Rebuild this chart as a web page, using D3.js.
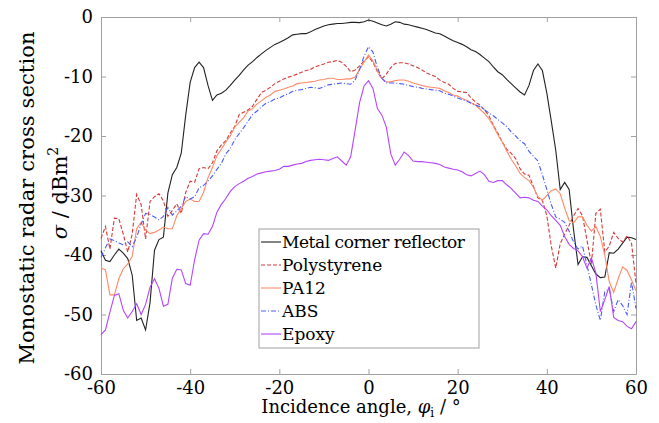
<!DOCTYPE html>
<html lang="en">
  <head>
    <meta charset="UTF-8" />
    <script src="https://d3js.org/d3.v7.min.js"></script>
    <style>
      body { margin: 0; background: #fff; }
    </style>
  </head>
  <body>
    <div id="chart"></div>
    <script>
      // incidence angles in degrees, one sample per degree
      const angles = d3.range(-60, 61)

      const xTicks = [-60, -40, -20, 0, 20, 40, 60]
      const yTicks = [0, -10, -20, -30, -40, -50, -60]

      const metal = [
        -39.3, -40.9, -41.1, -40.0, -39.0, -39.7, -40.6, -43.4, -51.0, -50.6,
        -52.6, -48.0, -39.2, -37.4, -37.0, -29.6, -26.5, -25.3, -22.9, -16.5,
        -11.0, -8.5, -7.6, -8.5, -11.5, -14.0, -13.1, -12.8, -12.3, -11.5,
        -10.6, -9.8, -8.9, -8.1, -7.5, -6.8, -6.2, -5.6, -5.1, -4.6,
        -4.3, -3.9, -3.5, -3.0, -2.9, -2.8, -2.8, -2.5, -2.1, -1.8,
        -1.5, -1.3, -1.2, -1.1, -1.1, -1.0, -0.9, -0.9, -0.95, -0.8,
        -0.5,
        -0.7, -1.0, -1.3, -1.5, -1.2, -0.8, -0.9, -1.2, -1.3, -1.5,
        -1.7, -1.9, -2.1, -2.4, -2.7, -2.8, -3.2, -3.6, -4.0, -4.3,
        -4.6, -5.0, -5.5, -5.8, -6.3, -6.9, -7.5, -8.4, -9.2, -9.7,
        -10.5, -11.2, -11.9, -12.6, -13.1, -11.5, -9.0, -7.9, -9.0, -12.8,
        -17.5, -22.4, -29.0, -27.8, -29.0, -35.8, -41.6, -40.3, -40.4, -41.8,
        -43.2, -43.8, -43.7, -39.6, -39.7, -39.0, -38.0, -37.0, -37.1, -37.4
      ]

      const polystyrene = [
        -37.2, -35.2, -39.0, -33.8, -33.9, -36.5, -39.5, -36.5, -29.8, -31.5,
        -37.3, -31.0, -30.2, -29.7, -30.9, -33.5, -32.5, -31.4, -33.0, -29.5,
        -27.6, -27.8, -25.5, -25.3, -25.5, -24.5, -22.5, -21.5, -20.8, -19.5,
        -18.4, -16.4, -16.0, -15.6, -15.0, -13.8, -12.7, -12.3, -11.8, -11.2,
        -10.8, -10.4, -10.1, -9.9, -9.6, -9.3, -9.0, -8.8, -8.4, -8.1,
        -7.9, -7.6, -7.5, -7.3, -7.6, -8.3, -9.2, -8.9, -8.2, -7.4,
        -6.7,
        -7.6, -9.2, -10.4, -9.6, -8.5, -7.8, -7.7, -7.7, -7.9, -8.2,
        -8.5, -8.9, -9.4, -9.7, -10.0, -10.6, -11.0, -11.3, -12.0, -12.5,
        -12.6, -12.7, -13.6, -14.3, -14.8, -15.6, -16.6, -18.2, -19.5, -21.0,
        -22.2, -22.9, -23.8, -25.5, -26.4, -26.6, -28.5, -30.4, -30.8, -33.4,
        -38.5, -42.2, -38.1, -36.5, -35.0, -33.4, -32.2, -33.4, -37.5, -41.5,
        -33.0, -32.3, -39.5, -38.5, -36.2, -37.2, -37.8, -36.8, -38.0, -44.8
      ]

      const pa12 = [
        -42.2, -42.5, -46.7, -46.7, -44.0, -42.3, -41.5, -40.2, -35.6, -34.5,
        -35.8, -36.4, -36.2, -35.8, -35.3, -35.6, -35.6, -33.4, -32.2, -31.0,
        -30.6, -31.0, -31.0, -29.5, -27.0, -25.3, -23.3, -22.2, -21.0, -20.0,
        -18.5, -17.7, -16.9, -15.8, -15.4, -14.6, -14.1, -13.5, -13.1, -12.5,
        -12.3, -12.1, -11.8, -11.6, -11.2, -11.1, -11.0, -10.9, -10.8, -10.6,
        -10.5, -10.3, -10.3, -10.5, -10.5, -10.4, -10.4, -10.1, -8.8, -7.6,
        -6.4,
        -7.4, -9.0, -10.3, -10.9, -10.9, -10.7, -10.6, -10.6, -10.8, -11.1,
        -11.3, -11.5, -11.7, -11.8, -11.9, -12.0, -12.4, -12.7, -13.1, -13.3,
        -13.7, -14.0, -14.4, -14.8, -15.5, -16.2, -17.1, -18.3, -19.8, -21.0,
        -22.5, -23.9, -25.0, -26.3, -27.0, -27.5, -28.6, -30.2, -30.8, -30.0,
        -29.2, -28.9, -29.7, -32.1, -34.2, -34.6, -33.6, -33.6, -35.0, -36.0,
        -35.2, -36.9, -40.0, -44.5, -46.3, -44.0, -42.0, -42.6, -44.2, -46.0
      ]

      const abs = [
        -40.4, -38.8, -37.3, -37.6, -38.0, -38.3, -37.8, -38.6, -37.0, -34.8,
        -33.0, -33.2, -33.6, -34.1, -33.5, -32.0, -33.3, -32.6, -31.8, -30.2,
        -30.6, -30.2, -28.7, -28.3, -27.6, -26.7, -25.6, -24.6, -23.0, -22.1,
        -20.6, -19.6, -18.6, -17.5, -16.4, -15.8, -15.1, -14.5, -14.2, -13.8,
        -13.6, -13.2, -12.9, -12.5, -12.3, -12.2, -12.0, -11.8, -11.9, -12.0,
        -11.7, -11.4, -11.3, -11.2, -11.1, -11.2, -11.3, -10.6, -8.8, -6.6,
        -5.0,
        -5.9, -8.5, -10.3, -11.1, -11.1, -11.1, -11.2, -11.3, -11.5, -11.7,
        -11.8, -12.0, -12.1, -12.2, -12.3, -12.4, -12.8, -13.0, -13.3, -13.6,
        -13.9, -14.1, -14.5, -14.8, -15.1, -15.6, -16.1, -16.6, -17.2, -17.8,
        -18.4, -19.3, -20.0, -20.8, -21.3, -22.6, -23.4, -24.2, -26.5, -29.0,
        -31.5, -33.6, -34.0, -34.5, -36.0, -37.8, -39.0, -38.5, -41.7, -45.0,
        -48.4, -51.0, -46.2, -45.7, -49.5, -47.5, -48.5, -50.0, -44.5, -49.0
      ]

      const epoxy = [
        -53.4, -52.6, -49.6, -46.8, -46.5, -49.3, -50.6, -49.5, -48.2, -50.0,
        -48.3, -45.4, -44.0, -45.6, -48.6, -48.3, -43.9, -42.4, -42.5, -44.8,
        -45.1, -40.8, -37.5, -36.4, -36.5, -35.2, -32.8, -31.5, -30.5, -29.3,
        -28.5, -28.0, -27.6, -27.1, -26.8, -26.4, -26.2, -26.0, -25.9, -25.8,
        -25.6, -25.1, -25.1, -24.9, -24.7, -24.6, -24.3, -24.1, -24.0, -23.9,
        -24.0, -24.1, -23.8, -23.5, -24.2, -24.9, -23.5, -19.0, -14.4, -11.6,
        -10.7,
        -12.0, -15.4, -16.5, -18.5, -23.0, -24.9, -23.9, -22.7, -23.3, -24.2,
        -24.3, -24.3, -24.4, -24.5, -24.6, -24.8, -25.2, -25.4, -25.6, -25.7,
        -26.0, -26.5, -26.7, -26.3, -25.9, -26.5, -27.6, -27.8, -27.5, -27.5,
        -28.2, -28.8, -29.6, -30.4, -30.3, -30.4, -30.8, -31.0, -31.8, -32.4,
        -33.4, -34.2, -35.0, -36.9, -38.2, -38.9, -39.3, -40.3, -42.2, -40.5,
        -43.0, -49.5, -47.5, -45.3, -50.5, -51.0, -51.2, -52.0, -52.4, -51.2
      ]

      const seriesNames = ['Metal corner reflector', 'Polystyrene', 'PA12', 'ABS', 'Epoxy']
      const seriesValues = [metal, polystyrene, pa12, abs, epoxy]
      const seriesColors = ['#222222', '#d63a3a', '#ff8a66', '#4a5cff', '#b445ff']
      const seriesDash = ['none', '4,2', 'none', '5,2,1,2', 'none']

      const serif = 'DejaVu Serif'

      const margin = { top: 17, right: 23, bottom: 49, left: 101 },
        width = 659 - margin.left - margin.right,
        height = 423 - margin.top - margin.bottom

      const svg = d3
        .select('#chart')
        .append('svg')
        .attr('width', 659)
        .attr('height', 423)
        .style('font-family', serif)

      const g = svg.append('g').attr('transform', `translate(${margin.left}, ${margin.top})`)

      const x = d3.scaleLinear().domain([-60, 60]).range([0, width])
      const y = d3.scaleLinear().domain([-60, 0]).range([height, 0])

      // box with inward ticks on all four sides
      const axisColor = '#a0a0a0'
      const styleAxis = sel => {
        sel.attr('font-family', null).attr('font-size', 18)
        sel.select('.domain').attr('stroke', axisColor)
        sel.selectAll('.tick line').attr('stroke', axisColor)
        sel.selectAll('.tick text').attr('fill', '#000').style('font-family', serif)
      }
      const fmt = d => String(d)

      g.append('g')
        .attr('transform', `translate(0, ${height})`)
        .call(d3.axisBottom(x).tickValues(xTicks).tickSizeInner(-5).tickSizeOuter(0).tickPadding(7).tickFormat(fmt))
        .call(styleAxis)
      g.append('g')
        .call(d3.axisTop(x).tickValues(xTicks).tickSizeInner(-5).tickSizeOuter(0).tickFormat(''))
        .call(styleAxis)
      g.append('g')
        .call(d3.axisLeft(y).tickValues(yTicks).tickSizeInner(-5).tickSizeOuter(0).tickPadding(8).tickFormat(fmt))
        .call(styleAxis)
      g.append('g')
        .attr('transform', `translate(${width}, 0)`)
        .call(d3.axisRight(y).tickValues(yTicks).tickSizeInner(-5).tickSizeOuter(0).tickFormat(''))
        .call(styleAxis)

      // lines
      const line = d3
        .line()
        .x((d, i) => x(angles[i]))
        .y(d => y(d))

      seriesValues.forEach((vals, k) => {
        g.append('path')
          .datum(vals)
          .attr('d', line)
          .attr('fill', 'none')
          .attr('stroke', seriesColors[k])
          .attr('stroke-width', 1.1)
          .attr('stroke-dasharray', seriesDash[k])
      })

      // legend
      const legend = svg.append('g').attr('transform', 'translate(259, 229)')
      legend.append('rect')
        .attr('width', 220)
        .attr('height', 119)
        .attr('fill', '#fff')
        .attr('stroke', axisColor)
      seriesNames.forEach((name, k) => {
        const row = legend.append('g').attr('transform', `translate(0, ${13 + k * 23})`)
        row.append('line')
          .attr('x1', 2).attr('x2', 22)
          .attr('stroke', seriesColors[k])
          .attr('stroke-width', 1.1)
          .attr('stroke-dasharray', seriesDash[k])
        row.append('text')
          .attr('x', 23)
          .attr('dy', '0.35em')
          .attr('font-size', 17)
          .attr('textLength', name.length > 20 ? 183 : null)
          .text(name)
      })

      // axis titles
      svg.append('text')
        .attr('x', 361)
        .attr('y', 413)
        .attr('text-anchor', 'middle')
        .attr('font-size', 18)
        .call(t => {
          t.append('tspan').text('Incidence  angle, ')
          t.append('tspan').attr('font-style', 'italic').text('φ')
          t.append('tspan').attr('font-size', 12).attr('dy', 4).text('i')
          t.append('tspan').attr('dy', -4).text(' / °')
        })

      svg.append('text')
        .attr('transform', 'translate(34, 198) rotate(-90)')
        .attr('text-anchor', 'middle')
        .attr('font-size', 21)
        .attr('textLength', 333)
        .attr('lengthAdjust', 'spacing')
        .text('Monostatic  radar  cross  section')

      svg.append('text')
        .attr('transform', 'translate(67, 193) rotate(-90)')
        .attr('text-anchor', 'middle')
        .attr('font-size', 21)
        .call(t => {
          t.append('tspan').attr('font-style', 'italic').text('σ')
          t.append('tspan').text(' / dBm')
          t.append('tspan').attr('font-size', 14).attr('dy', -9).text('2')
        })
    </script>
  </body>
</html>
